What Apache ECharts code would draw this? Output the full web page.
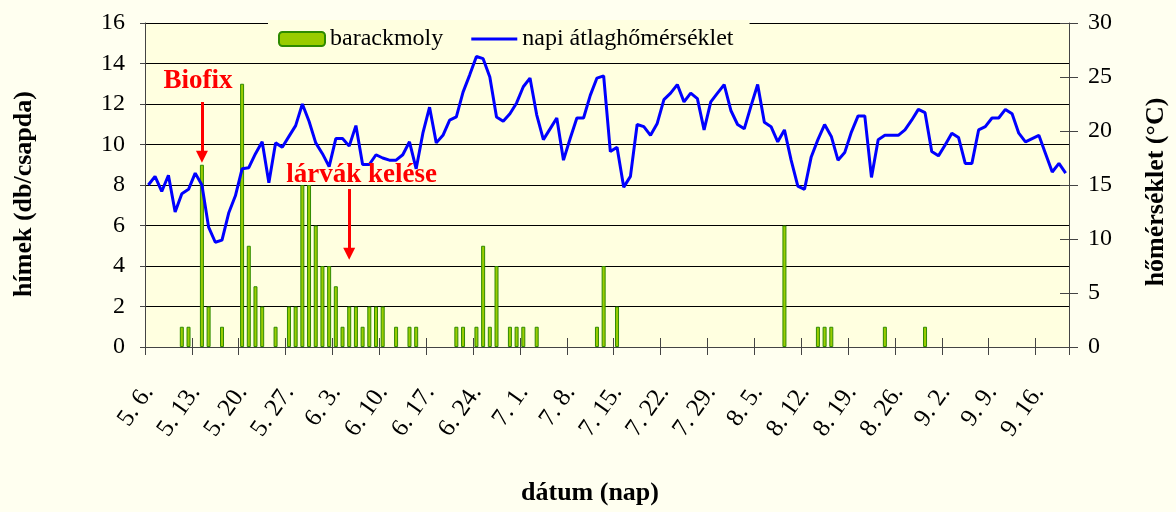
<!DOCTYPE html>
<html><head><meta charset="utf-8">
<script src="https://cdn.jsdelivr.net/npm/echarts@6/dist/echarts.min.js"></script>
<style>html,body{margin:0;padding:0;background:#FFFFF0}#c{width:1176px;height:512px}</style>
</head><body><div id="c"></div>
<script>
// ---- categories (daily, 5.6. – 9.20.) ----
const datesMay = ['5. 6.','5. 7.','5. 8.','5. 9.','5. 10.','5. 11.','5. 12.','5. 13.','5. 14.','5. 15.','5. 16.','5. 17.','5. 18.','5. 19.','5. 20.','5. 21.','5. 22.','5. 23.','5. 24.','5. 25.','5. 26.','5. 27.','5. 28.','5. 29.','5. 30.','5. 31.'];
const datesJun = ['6. 1.','6. 2.','6. 3.','6. 4.','6. 5.','6. 6.','6. 7.','6. 8.','6. 9.','6. 10.','6. 11.','6. 12.','6. 13.','6. 14.','6. 15.','6. 16.','6. 17.','6. 18.','6. 19.','6. 20.','6. 21.','6. 22.','6. 23.','6. 24.','6. 25.','6. 26.','6. 27.','6. 28.','6. 29.','6. 30.'];
const datesJul = ['7. 1.','7. 2.','7. 3.','7. 4.','7. 5.','7. 6.','7. 7.','7. 8.','7. 9.','7. 10.','7. 11.','7. 12.','7. 13.','7. 14.','7. 15.','7. 16.','7. 17.','7. 18.','7. 19.','7. 20.','7. 21.','7. 22.','7. 23.','7. 24.','7. 25.','7. 26.','7. 27.','7. 28.','7. 29.','7. 30.','7. 31.'];
const datesAug = ['8. 1.','8. 2.','8. 3.','8. 4.','8. 5.','8. 6.','8. 7.','8. 8.','8. 9.','8. 10.','8. 11.','8. 12.','8. 13.','8. 14.','8. 15.','8. 16.','8. 17.','8. 18.','8. 19.','8. 20.','8. 21.','8. 22.','8. 23.','8. 24.','8. 25.','8. 26.','8. 27.','8. 28.','8. 29.','8. 30.','8. 31.'];
const datesSep = ['9. 1.','9. 2.','9. 3.','9. 4.','9. 5.','9. 6.','9. 7.','9. 8.','9. 9.','9. 10.','9. 11.','9. 12.','9. 13.','9. 14.','9. 15.','9. 16.','9. 17.','9. 18.','9. 19.','9. 20.'];

// ---- barackmoly: hímek (db/csapda) ----
const mothMay = [0,0,0,0,0,1,1,0,9,2,0,1,0,0,13,5,3,2,0,1,0,2,2,8,8,6];
const mothJun = [4,4,3,1,2,2,1,2,2,2,0,1,0,1,1,0,0,0,0,0,1,1,0,1,5,1,4,0,1,1];
const mothJul = [1,0,1,0,0,0,0,0,0,0,0,1,4,0,2,0,0,0,0,0,0,0,0,0,0,0,0,0,0,0,0];
const mothAug = [0,0,0,0,0,0,0,0,6,0,0,0,0,1,1,1,0,0,0,0,0,0,0,1,0,0,0,0,0,1,0];
const mothSep = [0,0,0,0,0,0,0,0,0,0,0,0,0,0,0,0,0,0,0,0];

// ---- napi átlaghőmérséklet (°C) ----
const tempMay = [15.0,15.8,14.4,15.9,12.5,14.2,14.6,16.1,15.0,11.1,9.7,9.9,12.4,14.0,16.5,16.6,17.9,19.0,15.2,18.9,18.5,19.5,20.5,22.5,20.9,18.9];
const tempJun = [17.9,16.7,19.3,19.3,18.6,20.5,16.9,16.9,17.8,17.5,17.3,17.3,17.8,19.0,16.5,19.8,22.2,18.9,19.6,21.0,21.3,23.6,25.2,26.9,26.7,25.0,21.3,20.9,21.6,22.6];
const tempJul = [24.1,24.9,21.5,19.2,20.2,21.2,17.3,19.3,21.2,21.2,23.3,24.9,25.1,18.1,18.5,14.8,15.8,20.6,20.4,19.6,20.7,22.9,23.5,24.3,22.7,23.5,23.0,20.1,22.7,23.5,24.3];
const tempAug = [21.9,20.6,20.2,22.3,24.3,20.8,20.4,19.0,20.1,17.3,14.9,14.6,17.6,19.2,20.6,19.5,17.3,18.0,19.9,21.4,21.4,15.7,19.2,19.6,19.6,19.6,20.1,21.0,22.0,21.7,18.1];
const tempSep = [17.7,18.7,19.8,19.4,17.0,17.0,20.1,20.4,21.2,21.2,22.0,21.6,19.8,19.0,19.3,19.6,17.9,16.2,17.0,16.1];

// ---- annotations ----
const biofixNote = {date: '5. 14.', text: 'Biofix', from: 12.1, to: 9.4};
const hatchNote = {date: '6. 5.', text: 'lárvák kelése', from: 7.8, to: 4.6};

const dates = [].concat(datesMay, datesJun, datesJul, datesAug, datesSep);
const moth = [].concat(mothMay, mothJun, mothJul, mothAug, mothSep);
const temp = [].concat(tempMay, tempJun, tempJul, tempAug, tempSep);
// days with no catch are left empty (no bar drawn)
const mothBars = moth.map(v => (v === 0 ? null : v));

const FONT = "'Liberation Serif','Times New Roman',serif";
const box = {left: 145, right: 107, top: 23, bottom: 165, outerBoundsMode: 'none', containLabel: false};
const axisCol = '#444';

const chart = echarts.init(document.getElementById('c'), null, {renderer: 'canvas'});
chart.setOption({
  backgroundColor: '#FFFFF0',
  animation: false,
  textStyle: {fontFamily: FONT, color: '#000'},
  grid: [
    Object.assign({show: true, backgroundColor: '#FFFFE0', borderWidth: 0}, box),
    Object.assign({show: false}, box)
  ],
  legend: {
    left: 268, top: 20,
    padding: [7, 16, 4, 10],
    backgroundColor: '#FFFFE0',
    itemGap: 28, itemWidth: 46, itemHeight: 14,
    textStyle: {fontFamily: FONT, fontSize: 24, color: '#000'},
    data: [
      {name: 'barackmoly'},
      {name: 'napi átlaghőmérséklet', icon: 'path://M0,0L46,0L46,3L0,3Z', itemStyle: {color: '#0000FF', borderWidth: 0}}
    ]
  },
  xAxis: [
    {
      type: 'category', gridIndex: 0, data: dates, boundaryGap: true,
      axisLine: {show: true, lineStyle: {color: axisCol, width: 1}},
      axisTick: {show: true, interval: 6, length: 8, lineStyle: {color: axisCol}},
      axisLabel: {interval: 6, rotate: 55, margin: 41, fontSize: 25, color: '#000', fontFamily: FONT},
      splitLine: {show: false},
      name: 'dátum (nap)', nameLocation: 'middle', nameGap: 133, nameMoveOverlap: false,
      nameTextStyle: {fontFamily: FONT, fontSize: 26, fontWeight: 'bold', color: '#000', padding: [0, 34, 0, 0]}
    },
    {
      type: 'category', gridIndex: 1, data: dates, boundaryGap: true,
      axisLine: {show: false},
      axisTick: {show: true, inside: true, interval: 6, length: 9, lineStyle: {color: axisCol}},
      axisLabel: {show: false}, splitLine: {show: false}
    }
  ],
  yAxis: [
    {
      type: 'value', gridIndex: 0, min: 0, max: 16, interval: 2, position: 'left',
      axisLine: {show: true, lineStyle: {color: axisCol}},
      axisTick: {show: true, length: 5, lineStyle: {color: axisCol}},
      axisLabel: {fontSize: 24, margin: 20, color: '#000', fontFamily: FONT},
      splitLine: {show: true, lineStyle: {color: '#000', width: 1}},
      name: 'hímek (db/csapda)', nameLocation: 'middle', nameGap: 108, nameMoveOverlap: false,
      nameTextStyle: {fontFamily: FONT, fontSize: 26, fontWeight: 'bold', color: '#000', padding: [0, 18, 0, 0]}
    },
    {
      type: 'value', gridIndex: 0, min: 0, max: 30, interval: 5, position: 'right',
      axisLine: {show: true, lineStyle: {color: axisCol}},
      axisTick: {show: true, length: 9, lineStyle: {color: axisCol}},
      axisLabel: {fontSize: 24, margin: 19, color: '#000', fontFamily: FONT},
      splitLine: {show: false},
      name: 'hőmérséklet (°C)', nameLocation: 'middle', nameGap: 74, nameMoveOverlap: false,
      nameTextStyle: {fontFamily: FONT, fontSize: 26, fontWeight: 'bold', color: '#000', padding: [0, 14, 0, 0]}
    },
    {
      type: 'value', gridIndex: 1, min: 0, max: 30, interval: 5, position: 'right',
      axisLine: {show: false},
      axisTick: {show: true, inside: true, length: 9, lineStyle: {color: axisCol}},
      axisLabel: {show: false}, splitLine: {show: false}
    }
  ],
  series: [
    {
      name: 'barackmoly', type: 'bar', xAxisIndex: 0, yAxisIndex: 0,
      data: mothBars, barWidth: 4,
      itemStyle: {color: '#99CC00', borderColor: '#2E8B00', borderWidth: 1},
      z: 2,
      markLine: {
        silent: true, animation: false,
        symbol: ['none', 'triangle'], symbolSize: [12, 12],
        lineStyle: {color: '#FF0000', width: 3, type: 'solid'},
        label: {show: true, position: 'start', color: '#FF0000', fontWeight: 'bold', fontSize: 27, fontFamily: FONT},
        emphasis: {disabled: true},
        data: [
          [{coord: [biofixNote.date, biofixNote.from], label: {formatter: biofixNote.text, distance: 7, padding: [0, 8, 0, 0]}},
           {coord: [biofixNote.date, biofixNote.to]}],
          [{coord: [hatchNote.date, hatchNote.from], label: {formatter: hatchNote.text, distance: 1, padding: [0, 0, 0, 25]}},
           {coord: [hatchNote.date, hatchNote.to]}]
        ]
      }
    },
    {
      name: 'napi átlaghőmérséklet', type: 'line', xAxisIndex: 0, yAxisIndex: 1,
      data: temp, symbol: 'none', showSymbol: false,
      lineStyle: {color: '#0000FF', width: 3},
      itemStyle: {color: '#0000FF'},
      z: 3
    }
  ]
});
</script></body></html>
